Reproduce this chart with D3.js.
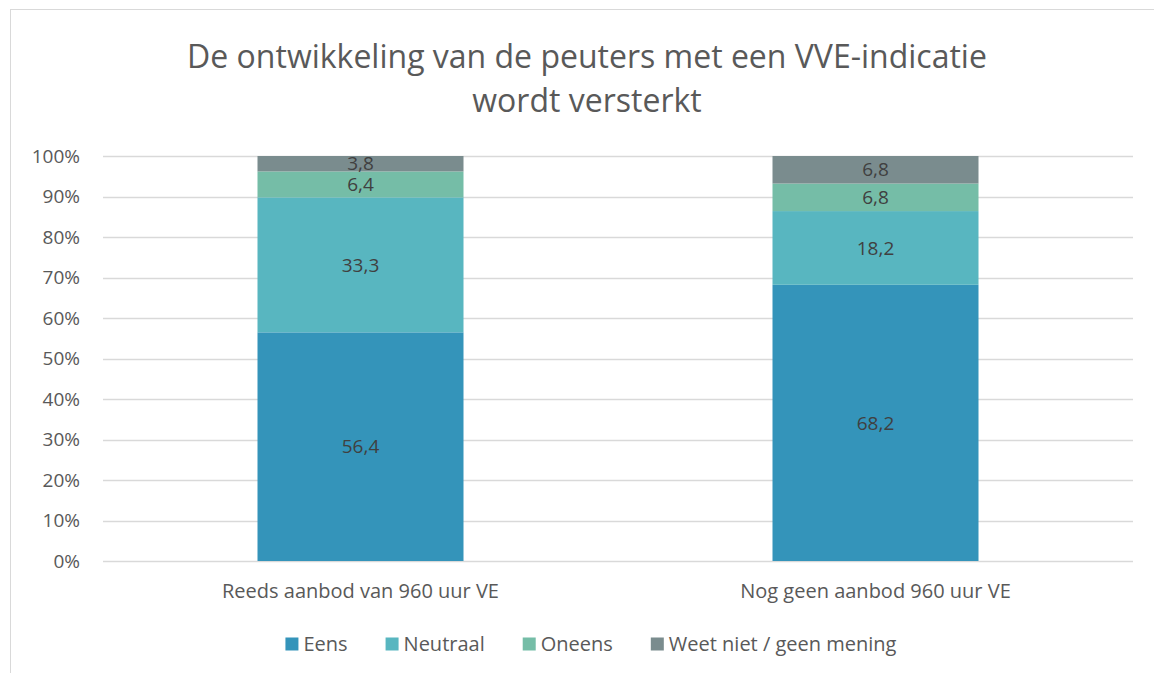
<!DOCTYPE html>
<html>
<head>
<meta charset="utf-8">
<script src="https://cdn.jsdelivr.net/npm/d3@7"></script>
<style>
  body { margin: 0; background: #fff; }
  svg text { font-family: "Open Sans", "Noto Sans", sans-serif; }
</style>
</head>
<body>
<div id="viz"></div>
<script>
// chart data
let categories = ['Reeds aanbod van 960 uur VE', 'Nog geen aanbod 960 uur VE'];
let series = ['Eens', 'Neutraal', 'Oneens', 'Weet niet / geen mening'];
let eens = [56.4, 68.2];
let neutraal = [33.3, 18.2];
let oneens = [6.4, 6.8];
let weetNiet = [3.8, 6.8];
let yTicks = [0, 0.1, 0.2, 0.3, 0.4, 0.5, 0.6, 0.7, 0.8, 0.9, 1];
let color = ['#3494BA', '#58B6C0', '#75BDA7', '#7A8C8E'];
let titleLines = ['De ontwikkeling van de peuters met een VVE-indicatie', 'wordt versterkt'];

let width = 1154, height = 673;
let margin = {top: 156, right: 21, bottom: 112, left: 103};

const svg = d3.select('#viz').append('svg')
    .attr('width', width)
    .attr('height', height);

// chart border (only left / top visible in the crop)
svg.append('rect')
    .attr('x', 10.5).attr('y', 9.5)
    .attr('width', width + 20).attr('height', height + 20)
    .attr('fill', 'none')
    .attr('stroke', '#d9d9d9');

// title
svg.append('text')
    .attr('text-anchor', 'middle')
    .attr('fill', '#595959')
    .style('font-size', '32px')
    .selectAll('tspan')
    .data(titleLines)
    .join('tspan')
    .attr('x', 587)
    .attr('y', (d, i) => 68 + i * 44)
    .text(d => d);

// rows of the table
let rows = categories.map((c, i) => ({
    cat: c,
    Eens: eens[i],
    Neutraal: neutraal[i],
    Oneens: oneens[i],
    'Weet niet / geen mening': weetNiet[i]
}));

const stacked = d3.stack()
    .keys(series)
    .offset(d3.stackOffsetExpand)(rows);

const x = d3.scaleBand()
    .domain(categories)
    .range([margin.left, width - margin.right])
    .paddingInner(0.6)
    .paddingOuter(0.3);

const y = d3.scaleLinear()
    .domain([0, 1])
    .range([height - margin.bottom, margin.top]);

// gridlines
svg.append('g')
    .selectAll('line')
    .data(yTicks)
    .join('line')
    .attr('x1', margin.left)
    .attr('x2', width - margin.right)
    .attr('y1', d => Math.round(y(d)) + 0.5)
    .attr('y2', d => Math.round(y(d)) + 0.5)
    .attr('stroke', '#d9d9d9')
    .attr('stroke-width', 1.3);

// y axis labels
svg.append('g')
    .selectAll('text')
    .data(yTicks)
    .join('text')
    .attr('x', 80)
    .attr('y', d => y(d))
    .attr('dy', '0.35em')
    .attr('text-anchor', 'end')
    .attr('fill', '#595959')
    .style('font-size', '19px')
    .text(d => d3.format('.0%')(d));

// bars
const layer = svg.append('g')
    .selectAll('g')
    .data(stacked)
    .join('g')
    .attr('fill', (d, i) => color[i]);

layer.selectAll('rect')
    .data(d => d)
    .join('rect')
    .attr('x', d => x(d.data.cat))
    .attr('width', x.bandwidth())
    .attr('y', d => y(d[1]))
    .attr('height', d => y(d[0]) - y(d[1]));

// data labels
layer.selectAll('text')
    .data((d, i) => d.map(p => ({p: p, key: d.key})))
    .join('text')
    .attr('x', d => x(d.p.data.cat) + x.bandwidth() / 2)
    .attr('y', d => (y(d.p[0]) + y(d.p[1])) / 2)
    .attr('dy', '0.35em')
    .attr('text-anchor', 'middle')
    .attr('fill', '#404040')
    .style('font-size', '19px')
    .text(d => String(d.p.data[d.key]).replace('.', ','));

// category labels
svg.append('g')
    .selectAll('text')
    .data(categories)
    .join('text')
    .attr('x', d => x(d) + x.bandwidth() / 2)
    .attr('y', 598)
    .attr('text-anchor', 'middle')
    .attr('fill', '#595959')
    .style('font-size', '20px')
    .text(d => d);

// legend
const legend = svg.append('g');
let lx = 0;
const gap = 38;
const items = legend.selectAll('g')
    .data(series)
    .join('g');
items.append('rect')
    .attr('width', 13).attr('height', 13)
    .attr('y', -6.5)
    .attr('fill', (d, i) => color[i]);
items.append('text')
    .attr('x', 18)
    .attr('dy', '0.35em')
    .attr('fill', '#595959')
    .style('font-size', '20px')
    .text(d => d);
items.each(function () {
    const w = this.getBBox().width;
    d3.select(this).attr('transform', 'translate(' + lx + ',0)');
    lx += w + gap;
});
lx -= gap;
legend.attr('transform', 'translate(' + (591 - lx / 2) + ',644)');
</script>
</body>
</html>
